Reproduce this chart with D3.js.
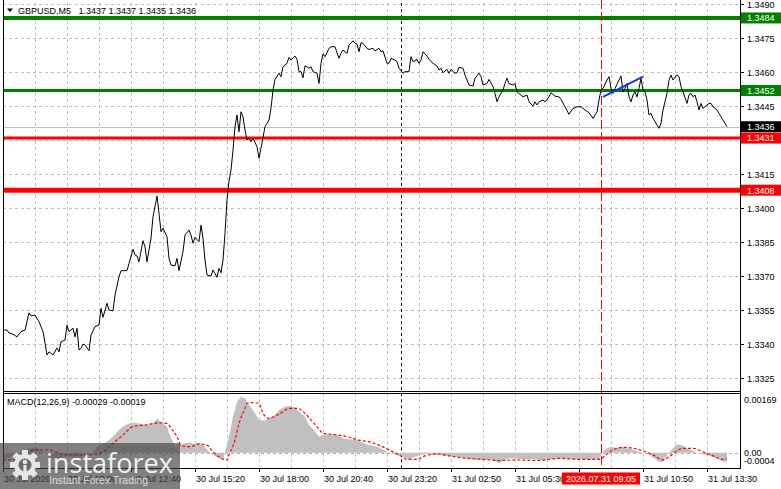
<!DOCTYPE html>
<html><head><meta charset="utf-8">
<script src="https://cdn.jsdelivr.net/npm/d3@7/dist/d3.min.js"></script>
<style>
html,body{margin:0;padding:0;background:#fff;overflow:hidden;}
svg{display:block;font-family:"Liberation Sans",Arial,sans-serif;}
</style></head><body>
<svg id="c" width="781" height="489"></svg>
<script>
// ---------- DATA ----------
const symbolTitle = "GBPUSD,M5";
const ohlc = ["1.3437", "1.3437", "1.3435", "1.3436"];
const macdTitle = "MACD(12,26,9) -0.00029 -0.00019";
const priceTicks = [1.3325, 1.3340, 1.3355, 1.3370, 1.3385, 1.3400, 1.3415, 1.3430, 1.3445, 1.3460, 1.3475, 1.3490];
const macdTicks = [["0.00169", 0.00169], ["0.00", 0], ["-0.0004", -0.0004]];
const timeLabels = [[0, "30 Jul 2026"], [32, "30 Jul 10:00"], [64, "30 Jul 12:40"], [96, "30 Jul 15:20"], [128, "30 Jul 18:00"], [160, "30 Jul 20:40"], [192, "30 Jul 23:20"], [224, "31 Jul 02:50"], [256, "31 Jul 05:30"], [288, "31 Jul 08:10"], [320, "31 Jul 10:50"], [352, "31 Jul 13:30"]];
const barsVisible = 368;
const gridEvery = 16;
const separatorBar = 199;
const crossBar = 299;
const crossLabel = "2026.07.31 09:05";
const lastPrice = 1.3436;
// [bar, close]
const price = [
[0,1.33463],[2,1.33463],[3,1.33450],[5,1.33445],[7,1.33433],[9,1.33456],[11,1.33463],[13,1.33539],[14,1.33525],[16,1.33529],
[18,1.33500],[20,1.33456],[21,1.33406],[22,1.33353],[23,1.33367],[25,1.33353],[27,1.33384],[28,1.33367],[29,1.33411],[31,1.33419],
[32,1.33485],[33,1.33456],[35,1.33471],[36,1.33433],[37,1.33471],[38,1.33375],[39,1.33382],[40,1.33401],[41,1.33397],[43,1.33372],
[44,1.33441],[46,1.33478],[48,1.33485],[49,1.33559],[50,1.33519],[52,1.33581],[53,1.33551],[55,1.33548],[56,1.33617],[58,1.33698],
[59,1.33725],[62,1.33725],[63,1.33757],[65,1.33819],[66,1.33794],[67,1.33790],[68,1.33764],[70,1.33857],[71,1.33831],[72,1.33764],
[74,1.33868],[75,1.33963],[77,1.34054],[78,1.33978],[79,1.33897],[80,1.33912],[82,1.33875],[83,1.33779],[84,1.33750],[86,1.33746],
[87,1.33779],[88,1.33725],[90,1.33809],[91,1.33882],[93,1.33904],[94,1.33882],[95,1.33846],[96,1.33872],[98,1.33853],[99,1.33926],
[100,1.33868],[101,1.33772],[102,1.33706],[104,1.33701],[105,1.33728],[107,1.33696],[108,1.33735],[109,1.33716],[110,1.33772],[111,1.33890],
[112,1.34037],[113,1.34120],[114,1.34169],[115,1.34257],[116,1.34360],[117,1.34412],[118,1.34338],[119,1.34426],[120,1.34404],[121,1.34345],
[122,1.34301],[123,1.34309],[124,1.34294],[125,1.34309],[127,1.34272],[128,1.34221],[129,1.34265],[131,1.34360],[133,1.34390],[134,1.34441],
[135,1.34522],[136,1.34569],[138,1.34596],[139,1.34581],[140,1.34625],[142,1.34640],[143,1.34666],[144,1.34654],[146,1.34672],[147,1.34657],
[148,1.34603],[149,1.34603],[150,1.34576],[151,1.34629],[153,1.34618],[154,1.34625],[155,1.34603],[157,1.34596],[158,1.34551],[159,1.34640],
[160,1.34681],[161,1.34669],[163,1.34706],[164,1.34713],[166,1.34713],[168,1.34662],[169,1.34684],[170,1.34698],[172,1.34684],[173,1.34720],
[175,1.34739],[176,1.34728],[177,1.34725],[178,1.34691],[179,1.34731],[180,1.34728],[182,1.34706],[183,1.34701],[185,1.34706],[186,1.34695],
[188,1.34706],[189,1.34691],[190,1.34695],[192,1.34640],[193,1.34640],[194,1.34662],[196,1.34654],[197,1.34647],[198,1.34618],[200,1.34596],
[201,1.34603],[203,1.34603],[204,1.34669],[205,1.34647],[207,1.34657],[208,1.34640],[209,1.34654],[210,1.34691],[212,1.34672],[213,1.34657],
[215,1.34640],[217,1.34628],[218,1.34610],[219,1.34618],[220,1.34598],[222,1.34613],[223,1.34596],[224,1.34613],[226,1.34596],[227,1.34598],
[228,1.34622],[230,1.34618],[231,1.34588],[233,1.34544],[235,1.34540],[236,1.34574],[238,1.34596],[239,1.34581],[240,1.34544],[242,1.34551],
[243,1.34569],[245,1.34537],[246,1.34507],[247,1.34470],[248,1.34492],[250,1.34522],[251,1.34551],[252,1.34574],[253,1.34551],[255,1.34544],
[256,1.34551],[257,1.34514],[258,1.34507],[260,1.34492],[262,1.34500],[263,1.34470],[265,1.34451],[266,1.34470],[267,1.34456],[268,1.34470],
[270,1.34478],[271,1.34470],[273,1.34492],[274,1.34510],[276,1.34495],[278,1.34492],[279,1.34481],[281,1.34448],[283,1.34415],[285,1.34441],
[287,1.34448],[289,1.34448],[291,1.34434],[293,1.34422],[295,1.34397],[297,1.34426],[298,1.34478],[299,1.34522],[300,1.34529],[302,1.34566],
[303,1.34581],[304,1.34529],[305,1.34507],[306,1.34529],[308,1.34566],[309,1.34584],[310,1.34514],[311,1.34529],[312,1.34551],[313,1.34492],
[314,1.34470],[315,1.34500],[316,1.34514],[317,1.34492],[318,1.34529],[319,1.34574],[320,1.34522],[321,1.34514],[322,1.34478],[323,1.34412],
[324,1.34419],[325,1.34397],[327,1.34368],[328,1.34353],[329,1.34375],[330,1.34434],[332,1.34507],[333,1.34566],[334,1.34588],[335,1.34566],
[337,1.34588],[338,1.34581],[339,1.34537],[340,1.34514],[342,1.34463],[343,1.34500],[344,1.34507],[345,1.34492],[346,1.34500],[347,1.34470],
[348,1.34434],[349,1.34463],[350,1.34441],[352,1.34456],[353,1.34463],[354,1.34463],[355,1.34448],[357,1.34434],[358,1.34419],[359,1.34404],
[360,1.34390],[362,1.34360]
];
// [bar, macd]
const macdHist = [
[0,-0.0002],[4,-0.00015],[8,-0.00005],[12,0.0001],[15,0.00018],[18,0.00012],[21,0],[24,-0.00015],[28,-0.00022],[32,-0.00012],
[36,-0.00015],[40,-0.00012],[44,-0.00005],[46,0.0001],[48,0.00024],[52,0.00035],[55,0.00051],[58,0.00072],[60,0.00083],[63,0.00093],
[65,0.00095],[68,0.00093],[72,0.00088],[75,0.00093],[77,0.00109],[78,0.00102],[80,0.00093],[82,0.00083],[83,0.00062],[85,0.00035],
[86,0.00019],[88,0.00024],[91,0.0003],[93,0.00032],[96,0.00028],[98,0.00032],[100,0.00024],[103,0.00003],[105,-0.00007],[108,-0.00018],
[110,-0.00023],[111,0.00003],[113,0.00051],[115,0.00114],[117,0.00162],[119,0.00178],[121,0.00173],[123,0.00152],[125,0.00135],[126,0.00125],
[128,0.00104],[131,0.00102],[133,0.00109],[136,0.0012],[138,0.00136],[141,0.00146],[143,0.00148],[146,0.00144],[148,0.0013],[151,0.00114],
[153,0.00088],[156,0.00067],[158,0.00051],[160,0.00056],[163,0.00059],[167,0.00056],[170,0.00046],[173,0.00043],[177,0.0004],[180,0.00032],
[183,0.00024],[187,0.00019],[190,0.00009],[193,0],[197,-0.00007],[200,-0.00013],[203,-0.00021],[205,-0.00015],[208,-0.00007],[212,-0.00004],
[217,-0.00007],[223,-0.0001],[230,-0.00015],[237,-0.00023],[243,-0.00021],[248,-0.00032],[253,-0.00018],[262,-0.00021],[270,-0.00023],[278,-0.00018],
[287,-0.00021],[295,-0.00021],[298,-0.00021],[300,0.00003],[302,0.00014],[304,0.00019],[307,0.00014],[309,0.00019],[312,0.00014],[315,0.00009],
[318,0.00003],[322,-0.00002],[325,-0.00015],[328,-0.00029],[330,-0.00029],[332,-0.00007],[335,0.00014],[337,0.00027],[340,0.00022],[342,0.00014],
[346,0.00003],[349,-0.00004],[353,-0.0001],[357,-0.00018],[360,-0.00029],[362,-0.00029]
];
// [bar, signal]
const macdSignal = [
[0,-0.00023],[6,-0.00023],[16,0.00009],[22,0.00009],[32,-0.00007],[43,-0.00007],[50,0.00002],[55,0.0003],[60,0.00056],[65,0.00083],
[71,0.00088],[78,0.00095],[82,0.00093],[84,0.00078],[87,0.00051],[89,0.00024],[92,0.00019],[95,0.00021],[98,0.00028],[102,0.00024],
[105,0.00003],[108,-0.00013],[112,-0.00023],[113,-0.00007],[116,0.0004],[118,0.00093],[121,0.00141],[122,0.00157],[125,0.00159],[128,0.00157],
[130,0.00125],[133,0.00109],[137,0.0012],[140,0.0013],[143,0.00141],[147,0.00141],[151,0.00125],[154,0.00104],[157,0.00083],[160,0.00062],
[165,0.00058],[172,0.00051],[178,0.0004],[183,0.00035],[188,0.00024],[193,0.00009],[198,-0.00007],[202,-0.00021],[207,-0.00021],[211,-0.0001],
[217,-0.00004],[223,-0.0001],[232,-0.00018],[240,-0.00021],[248,-0.00025],[257,-0.00023],[267,-0.00025],[278,-0.00018],[287,-0.00021],[298,-0.00021],
[302,-0.00004],[305,0.00009],[310,0.00017],[315,0.00014],[320,0.00006],[325,-0.00007],[330,-0.00023],[333,-0.00013],[337,0.00006],[340,0.00014],
[345,0.00014],[350,0.00003],[355,-0.0001],[360,-0.00021],[362,-0.00019]
];
const levelValues = [1.3484, 1.3452, 1.3431, 1.3408];
const levelColors = ["#008000", "#008000", "#ff0000", "#ff0000"];
const levelWidths = [4, 3, 3, 5];
const trendBars = [300, 320];
const trendValues = [1.34492, 1.34581];

// ---------- LAYOUT ----------
const L = 3, R = 740, mainTop = 3, mainBot = 391, macdTop = 393.3, macdBot = 468;
const svg = d3.select("#c");
const x = d3.scaleLinear().domain([0, barsVisible]).range([L, L + 2 * barsVisible]);
const y = d3.scaleLinear().domain([1.33194, 1.34906]).range([mainBot, mainTop]);
const ym = d3.scaleLinear().domain([-0.000486, 0.001887]).range([macdBot, macdTop]);
const gridColor = "#c0c0c0";

// vertical grid
const gridBars = d3.range(gridEvery, barsVisible, gridEvery);
svg.append("g").selectAll("line").data(gridBars).join("line")
  .attr("x1", d => Math.round(x(d)) + 0.5).attr("x2", d => Math.round(x(d)) + 0.5)
  .attr("y1", mainTop).attr("y2", mainBot)
  .attr("stroke", gridColor).attr("stroke-dasharray", "3,3");
svg.append("g").selectAll("line").data(gridBars).join("line")
  .attr("x1", d => Math.round(x(d)) + 0.5).attr("x2", d => Math.round(x(d)) + 0.5)
  .attr("y1", macdTop).attr("y2", macdBot)
  .attr("stroke", gridColor).attr("stroke-dasharray", "3,3");
// horizontal grid
svg.append("g").selectAll("line").data(priceTicks).join("line")
  .attr("x1", L).attr("x2", R)
  .attr("y1", d => Math.round(y(d)) + 0.5).attr("y2", d => Math.round(y(d)) + 0.5)
  .attr("stroke", gridColor).attr("stroke-dasharray", "3,3");
// macd zero level
svg.append("line").attr("x1", L).attr("x2", R)
  .attr("y1", Math.round(ym(0)) + 0.5).attr("y2", Math.round(ym(0)) + 0.5)
  .attr("stroke", "#b0b0b0").attr("stroke-dasharray", "3,3");

// period separator
[[mainTop, mainBot], [macdTop, macdBot]].forEach(([a, b]) => {
  svg.append("line").attr("x1", Math.round(x(separatorBar)) + 0.5).attr("x2", Math.round(x(separatorBar)) + 0.5)
    .attr("y1", a).attr("y2", b).attr("stroke", "#000").attr("stroke-dasharray", "3,3");
});

// current price line
svg.append("line").attr("x1", L).attr("x2", R)
  .attr("y1", Math.round(y(lastPrice)) + 0.5).attr("y2", Math.round(y(lastPrice)) + 0.5)
  .attr("stroke", "#c0c0c0");

// levels
levelValues.forEach((v, i) => {
  svg.append("line").attr("x1", L).attr("x2", R).attr("y1", y(v)).attr("y2", y(v))
    .attr("stroke", levelColors[i]).attr("stroke-width", levelWidths[i]);
});

// MACD histogram
svg.append("path").datum(macdHist)
  .attr("d", d3.area().x(d => x(d[0])).y0(ym(0)).y1(d => ym(d[1])))
  .attr("fill", "#c0c0c0");
// signal
svg.append("path").datum(macdSignal)
  .attr("d", d3.line().x(d => x(d[0])).y(d => ym(d[1])).curve(d3.curveMonotoneX))
  .attr("fill", "none").attr("stroke", "#ff0000").attr("stroke-width", 1.2).attr("stroke-dasharray", "3,2");

// price line
svg.append("path").datum(price)
  .attr("d", d3.line().x(d => x(d[0])).y(d => y(d[1])))
  .attr("fill", "none").attr("stroke", "#000").attr("stroke-width", 1);

// trend line
svg.append("line").attr("x1", x(trendBars[0])).attr("x2", x(trendBars[1]))
  .attr("y1", y(trendValues[0])).attr("y2", y(trendValues[1]))
  .attr("stroke", "#1030ff").attr("stroke-width", 2);

// crosshair vertical
svg.append("line").attr("x1", Math.round(x(crossBar)) + 0.5).attr("x2", Math.round(x(crossBar)) + 0.5)
  .attr("y1", 0).attr("y2", macdBot).attr("stroke", "#ff0000").attr("stroke-dasharray", "9,3");

// borders
const bc = "#000";
svg.append("line").attr("x1", L + 0.5).attr("x2", L + 0.5).attr("y1", 0).attr("y2", macdBot + 0.5).attr("stroke", bc);
svg.append("line").attr("x1", R + 0.5).attr("x2", R + 0.5).attr("y1", 0).attr("y2", macdBot + 0.5).attr("stroke", bc);
svg.append("line").attr("x1", L).attr("x2", R + 1).attr("y1", mainBot + 0.5).attr("y2", mainBot + 0.5).attr("stroke", bc);
svg.append("line").attr("x1", L).attr("x2", R + 1).attr("y1", macdTop + 0.2).attr("y2", macdTop + 0.2).attr("stroke", bc);
svg.append("line").attr("x1", L).attr("x2", R + 1).attr("y1", macdBot + 0.5).attr("y2", macdBot + 0.5).attr("stroke", bc);

// right price axis (labels hidden where a value box sits on top)
const fs = 9;
const boxValues = levelValues.concat([lastPrice]);
priceTicks.forEach(v => {
  const yy = Math.round(y(v)) + 0.5;
  svg.append("line").attr("x1", R).attr("x2", R + 4).attr("y1", yy).attr("y2", yy).attr("stroke", "#000");
  const covered = boxValues.some(b => Math.abs(y(b) - y(v)) < 9);
  if (!covered) svg.append("text").attr("x", 747).attr("y", yy + 3.3).attr("font-size", fs).attr("fill", "#000").text(v.toFixed(4));
});
macdTicks.forEach(([t, v], i) => {
  let yy = ym(v);
  if (i === 2) yy -= 4.5;
  svg.append("text").attr("x", 744).attr("y", yy + 3.3).attr("font-size", fs).attr("fill", "#000").text(t);
});

// bottom time axis (label under the crosshair box is hidden)
const cx = x(crossBar);
timeLabels.forEach(([b, t]) => {
  const xx = Math.round(x(b)) + 0.5;
  svg.append("line").attr("x1", xx).attr("x2", xx).attr("y1", macdBot).attr("y2", macdBot + 4).attr("stroke", "#000");
  const covered = xx > cx - 39 && xx < cx + 39;
  if (!covered) svg.append("text").attr("x", xx + 0.5).attr("y", 481.5).attr("font-size", fs).attr("fill", "#000").text(t);
});

// value boxes
function box(v, bg) {
  const yy = y(v);
  svg.append("rect").attr("x", 741).attr("y", yy - 5.5).attr("width", 40).attr("height", 11).attr("fill", bg);
  svg.append("text").attr("x", 747).attr("y", yy + 3.3).attr("font-size", fs).attr("fill", "#fff").text(v.toFixed(4));
}
box(levelValues[0], levelColors[0]);
box(levelValues[1], levelColors[1]);
box(lastPrice, "#000");
box(levelValues[2], levelColors[2]);
box(levelValues[3], levelColors[3]);

// crosshair time box
svg.append("rect").attr("x", cx - 39).attr("y", 472.5).attr("width", 78).attr("height", 12).attr("fill", "#ff0000");
svg.append("text").attr("x", cx).attr("y", 481.8).attr("text-anchor", "middle").attr("font-size", fs).attr("fill", "#fff").text(crossLabel);

// titles
svg.append("path").attr("d", "M7,8.5 L13,8.5 L10,12 Z").attr("fill", "#000");
svg.append("text").attr("x", 18).attr("y", 14).attr("font-size", fs).attr("fill", "#000")
  .attr("xml:space", "preserve").text(symbolTitle + "   " + ohlc.join(" "));
svg.append("text").attr("x", 7).attr("y", 404.5).attr("font-size", fs).attr("fill", "#000").text(macdTitle);

// logo watermark
const lg = svg.append("g");
lg.append("rect").attr("x", 0).attr("y", 443).attr("width", 180).attr("height", 46).attr("fill", "#444").attr("opacity", 0.68);
const gc = [25, 465], teeth = 8;
const gear = d3.range(teeth).map(i => i * 2 * Math.PI / teeth);
lg.append("circle").attr("cx", gc[0]).attr("cy", gc[1]).attr("r", 11).attr("fill", "#e6e6e6");
gear.forEach(a => {
  lg.append("rect").attr("x", -3).attr("y", -15).attr("width", 6).attr("height", 6).attr("fill", "#e6e6e6")
    .attr("transform", `translate(${gc[0]},${gc[1]}) rotate(${a * 180 / Math.PI})`);
});
lg.append("circle").attr("cx", gc[0]).attr("cy", gc[1]).attr("r", 6.5).attr("fill", "#6a6a6a");
lg.append("circle").attr("cx", gc[0]).attr("cy", gc[1] - 3).attr("r", 2.3).attr("fill", "#e6e6e6");
lg.append("rect").attr("x", gc[0] - 1.6).attr("y", gc[1]).attr("width", 3.2).attr("height", 7).attr("fill", "#e6e6e6");
lg.append("text").attr("x", 46).attr("y", 473).attr("font-size", 27).attr("fill", "#f2f2f2")
  .attr("font-family", "'Open Sans','Liberation Sans',sans-serif")
  .attr("textLength", 127).attr("lengthAdjust", "spacingAndGlyphs").text("instaforex");
lg.append("text").attr("x", 49).attr("y", 484).attr("font-size", 10).attr("fill", "#dcdcdc")
  .attr("textLength", 99).attr("lengthAdjust", "spacingAndGlyphs").text("Instant Forex Trading");
</script>
</body></html>
